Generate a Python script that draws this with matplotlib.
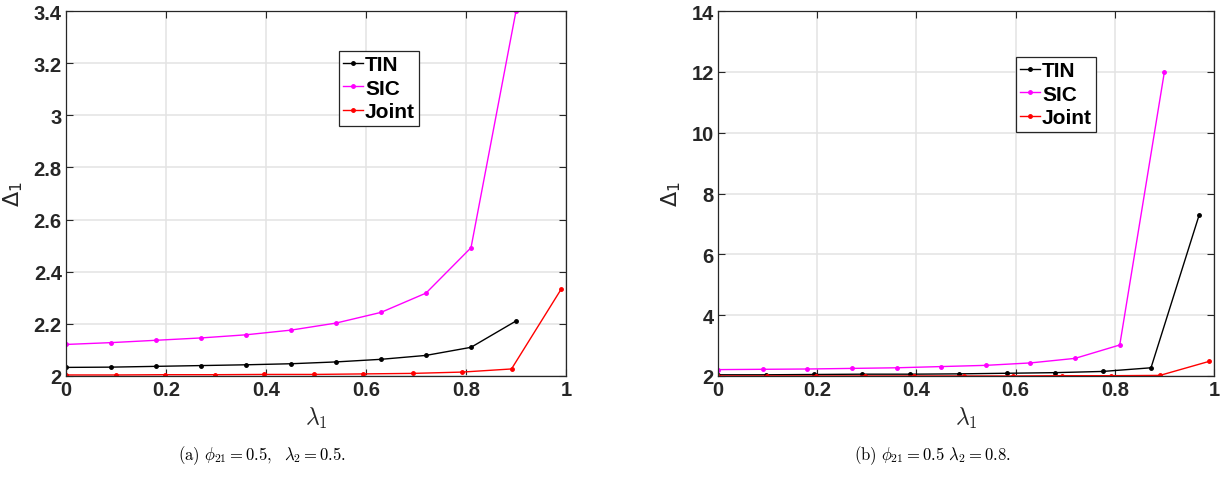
import numpy as np
import matplotlib
matplotlib.use("Agg")
import matplotlib.pyplot as plt

plt.rcParams['font.family'] = ['Liberation Sans', 'DejaVu Sans']
plt.rcParams['mathtext.fontset'] = 'cm'

# (a) phi21 = 0.5, lambda2 = 0.5
lam_a = [0, 0.09, 0.18, 0.27, 0.36, 0.45, 0.54, 0.63, 0.72, 0.81, 0.9]
tin_a = [2.033, 2.034, 2.037, 2.040, 2.043, 2.047, 2.054, 2.064, 2.079, 2.110, 2.211]
sic_a = [2.121, 2.128, 2.137, 2.146, 2.158, 2.176, 2.203, 2.244, 2.318, 2.492, 3.4]
lam_joint_a = [0, 0.099, 0.198, 0.297, 0.396, 0.495, 0.594, 0.693, 0.792, 0.891, 0.99]
joint_a = [2.004, 2.004, 2.005, 2.005, 2.006, 2.006, 2.008, 2.010, 2.015, 2.027, 2.332]

# (b) phi21 = 0.5, lambda2 = 0.8
lam_sic_b = [0, 0.09, 0.18, 0.27, 0.36, 0.45, 0.54, 0.63, 0.72, 0.81, 0.9]
sic_b = [2.21, 2.22, 2.23, 2.25, 2.27, 2.31, 2.35, 2.43, 2.58, 3.02, 12.0]
lam_tin_b = [0, 0.097, 0.194, 0.291, 0.388, 0.485, 0.582, 0.679, 0.776, 0.873, 0.97]
tin_b = [2.04, 2.04, 2.05, 2.06, 2.06, 2.07, 2.09, 2.11, 2.15, 2.27, 7.29]
lam_joint_b = [0, 0.099, 0.198, 0.297, 0.396, 0.495, 0.594, 0.693, 0.792, 0.891, 0.99]
joint_b = [2.0, 2.0, 2.0, 2.0, 2.0, 2.0, 2.0, 2.01, 2.01, 2.02, 2.48]

x_ticks = [0, 0.2, 0.4, 0.6, 0.8, 1]
x_tick_labels = ['0', '0.2', '0.4', '0.6', '0.8', '1']
y_ticks_a = [2, 2.2, 2.4, 2.6, 2.8, 3, 3.2, 3.4]
y_tick_labels_a = ['2', '2.2', '2.4', '2.6', '2.8', '3', '3.2', '3.4']
y_ticks_b = [2, 4, 6, 8, 10, 12, 14]
y_tick_labels_b = ['2', '4', '6', '8', '10', '12', '14']

captions = [r'$\mathrm{(a)}\ \phi_{21} = 0.5,\ \ \lambda_2 = 0.5.$',
            r'$\mathrm{(b)}\ \phi_{21} = 0.5\ \lambda_2 = 0.8.$']

W, H = 1228, 489
fig = plt.figure(figsize=(W / 100, H / 100), dpi=100)


def px_axes(x0, x1, y0, y1):
    return fig.add_axes([x0 / W, 1 - y1 / H, (x1 - x0) / W, (y1 - y0) / H])


def style_axes(ax, yticks, ylabels, ylim):
    ax.set_xlim(0, 1)
    ax.set_ylim(*ylim)
    ax.set_xticks(x_ticks)
    ax.set_xticklabels(x_tick_labels, fontweight='bold', fontsize=14.5)
    ax.set_yticks(yticks)
    ax.set_yticklabels(ylabels, fontweight='bold', fontsize=14.5)
    ax.tick_params(direction='in', top=True, right=True, length=5, width=0.8,
                   colors='#262626', pad=3)
    ax.grid(True, color='#e3e3e3', linewidth=1.1)
    ax.set_axisbelow(True)
    for s in ax.spines.values():
        s.set_color('#262626')
        s.set_linewidth(0.9)
    ax.set_xlabel(r'$\lambda_1$', fontsize=17, labelpad=4, color='#262626')
    ax.set_ylabel(r'$\Delta_1$', fontsize=16, labelpad=6, color='#262626',
                  math_fontfamily='dejavusans')


line_kw = dict(marker='.', markersize=5, linewidth=1)

ax1 = px_axes(66, 566, 12, 377)
ax1.plot(lam_a, tin_a, color='k', label='TIN', **line_kw)
ax1.plot(lam_a, sic_a, color='#ff00ff', label='SIC', **line_kw)
ax1.plot(lam_joint_a, joint_a, color='#ff0000', label='Joint', **line_kw)
style_axes(ax1, y_ticks_a, y_tick_labels_a, (2, 3.4))

ax2 = px_axes(718, 1214, 12, 377)
ax2.plot(lam_tin_b, tin_b, color='k', label='TIN', **line_kw)
ax2.plot(lam_sic_b, sic_b, color='#ff00ff', label='SIC', **line_kw)
ax2.plot(lam_joint_b, joint_b, color='#ff0000', label='Joint', **line_kw)
style_axes(ax2, y_ticks_b, y_tick_labels_b, (2, 14))

legend_pos = [(ax1, (339, 52)), (ax2, (1016, 58))]
for ax, (lx, ly) in legend_pos:
    leg = ax.legend(loc='upper left', bbox_to_anchor=(lx / W, 1 - ly / H),
                    bbox_transform=fig.transFigure, fancybox=False,
                    framealpha=1, edgecolor='#262626', borderpad=0.2,
                    handlelength=0.95, handletextpad=0.1, labelspacing=0.22,
                    borderaxespad=0, prop={'weight': 'bold', 'size': 15})
    leg.get_frame().set_linewidth(0.9)

fig.text(262 / W, 1 - 456 / H, captions[0], ha='center', va='center', fontsize=12)
fig.text(932 / W, 1 - 456 / H, captions[1], ha='center', va='center', fontsize=12)

fig.savefig('out.png', dpi=100)
